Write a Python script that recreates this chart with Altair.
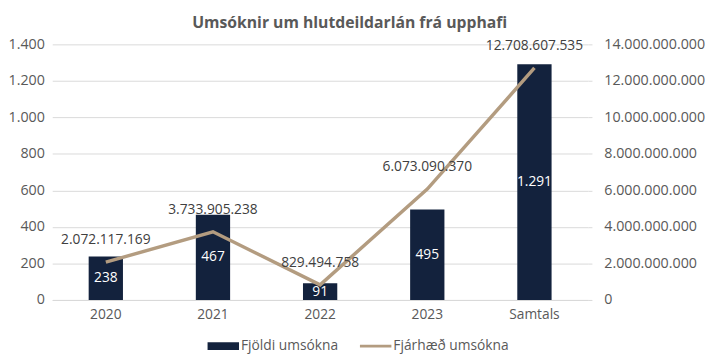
import altair as alt
import pandas as pd

categories = ["2020", "2021", "2022", "2023", "Samtals"]
fjoldi = [238, 467, 91, 495, 1291]
fjarhaed = [2072117169, 3733905238, 829494758, 6073090370, 12708607535]
series_names = ["Fjöldi umsókna", "Fjárhæð umsókna"]
left_ticks = [0, 200, 400, 600, 800, 1000, 1200, 1400]
right_ticks = [0, 2e9, 4e9, 6e9, 8e9, 10e9, 12e9, 14e9]

NAVY = "#13223d"
TAN = "#b39c80"
FONT = "Open Sans"
LBL = "#595959"
fmt = "replace(format(datum.value, ','), /,/g, '.')"

df = pd.DataFrame({"cat": categories, "fjoldi": fjoldi, "fjarhaed": fjarhaed})
leg_df = pd.DataFrame({"s": series_names})

base = alt.Chart(df).transform_calculate(
    fjoldi_label="replace(format(datum.fjoldi, ','), /,/g, '.')",
    fjarhaed_label="replace(format(datum.fjarhaed, ','), /,/g, '.')",
    half="datum.fjoldi / 2",
)

x_axis = alt.Axis(labelAngle=0, ticks=False, domainColor="#d9d9d9",
                  labelPadding=8, labelFont=FONT, labelFontSize=14, labelColor=LBL)
x_scale = alt.Scale(paddingInner=0.68, paddingOuter=0.34)
x = alt.X("cat:N", sort=categories, title=None, scale=x_scale, axis=x_axis)

yl_scale = alt.Scale(domain=[0, 1400])
yr_scale = alt.Scale(domain=[0, 14e9])
yl_axis = alt.Axis(values=left_ticks, labelExpr=fmt, domain=False, ticks=False,
                   gridColor="#d9d9d9", labelPadding=8, labelOverlap=False,
                   labelFont=FONT, labelFontSize=14.5, labelColor=LBL)
yr_axis = alt.Axis(values=right_ticks, labelExpr=fmt, domain=False, ticks=True,
                   tickColor="#d9d9d9", tickSize=4, grid=False, orient="right",
                   labelPadding=12, labelOverlap=False,
                   labelFont=FONT, labelFontSize=14.5, labelColor=LBL)

color_scale = alt.Scale(domain=series_names, range=[NAVY, TAN])
shape_scale = alt.Scale(domain=series_names,
                        range=["M-1,-0.25H1V0.25H-1Z", "M-1,-0.09H1V0.09H-1Z"])

bars = base.mark_bar(color=NAVY).encode(
    x=x,
    y=alt.Y("fjoldi:Q", scale=yl_scale, title=None, axis=yl_axis),
)

bar_text = base.mark_text(color="white", font=FONT, fontSize=14, baseline="middle").encode(
    x=x,
    y=alt.Y("half:Q", scale=yl_scale, title=None, axis=yl_axis),
    text="fjoldi_label:N",
)

line = base.mark_line(strokeWidth=3.5, color=TAN).encode(
    x=x,
    y=alt.Y("fjarhaed:Q", scale=yr_scale, title=None, axis=yr_axis),
)

line_text = base.mark_text(color="#404040", font=FONT, fontSize=14, dy=-22).encode(
    x=x,
    y=alt.Y("fjarhaed:Q", scale=yr_scale, title=None, axis=yr_axis),
    text="fjarhaed_label:N",
)

leg = alt.Legend(orient="none", legendX=158, legendY=291, title=None,
                 direction="horizontal",
                 symbolSize=1024, symbolOpacity=1, symbolStrokeWidth=0,
                 labelOffset=2, columnPadding=22, labelFont=FONT, labelFontSize=14,
                 labelColor=LBL)

legend_layer = alt.Chart(leg_df).mark_point(filled=True, opacity=0).encode(
    color=alt.Color("s:N", scale=color_scale, sort=series_names, legend=leg),
    shape=alt.Shape("s:N", scale=shape_scale, sort=series_names, legend=leg),
)

left = alt.layer(bars, bar_text)
right = alt.layer(line, line_text)

chart = alt.layer(left, right, legend_layer).resolve_scale(y="independent").properties(
    width=545, height=260,
    padding={"left": 0, "right": 0, "top": 4, "bottom": 0},
    title=alt.TitleParams("Umsóknir um hlutdeildarlán frá upphafi", font=FONT,
                          fontSize=16, fontWeight="bold", color=LBL,
                          anchor="middle", offset=6, dx=30),
).configure_view(stroke=None)

chart.save("out.html", embed_options={"renderer": "svg", "actions": False})
